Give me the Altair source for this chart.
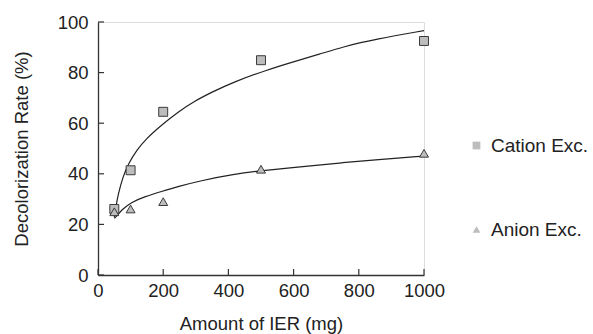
import altair as alt
import pandas as pd

# Measured data points
amount = [50, 100, 200, 500, 1000]
cation = [26.1, 41.4, 64.5, 84.9, 92.5]
anion = [25.0, 26.1, 29.0, 41.8, 48.1]

# Fitted curves
cat_fit_x = [50, 55, 62, 77, 93, 120, 144, 195, 246, 297, 350, 414, 517, 600, 680, 751, 854, 1000]
cat_fit_y = [22.8, 27, 32, 39, 44, 49.5, 53.4, 59.3, 64.5, 68.8, 72.3, 76.2, 81.0, 84.3, 87.3, 90.2, 93.3, 96.6]
an_fit_x = [50, 60, 72, 103, 144, 195, 246, 312, 414, 517, 649, 751, 854, 1000]
an_fit_y = [22.4, 23.6, 25.7, 28.8, 31, 33.0, 35.0, 37.2, 39.8, 41.5, 43.1, 44.4, 45.6, 47]

series_names = ["Cation Exc.", "Anion Exc."]
x_ticks = [0, 200, 400, 600, 800, 1000]
y_ticks = [0, 20, 40, 60, 80, 100]

W, H = 326, 253
FONT = "Liberation Sans"
FS = 18.5

pts = pd.DataFrame(
    {"amount": amount + amount,
     "rate": cation + anion,
     "series": [series_names[0]] * len(amount) + [series_names[1]] * len(amount)}
)
fits = pd.DataFrame(
    {"amount": cat_fit_x + an_fit_x,
     "rate": cat_fit_y + an_fit_y,
     "series": [series_names[0]] * len(cat_fit_x) + [series_names[1]] * len(an_fit_x)}
)

xscale = alt.Scale(domain=[0, 1000], nice=False)
yscale = alt.Scale(domain=[0, 100], nice=False)

xaxis = alt.Axis(values=x_ticks, format="d", title="Amount of IER (mg)", ticks=False, grid=False,
                 labelFlush=False, labelOverlap=False,
                 labelFontSize=FS, titleFontSize=FS, titleFontWeight="normal",
                 labelPadding=6, titlePadding=15, domainColor="#333", domainWidth=1.3,
                 labelColor="#222", titleColor="#222", labelFont=FONT, titleFont=FONT)
yaxis = alt.Axis(values=y_ticks, title="Decolorization Rate (%)", ticks=False, grid=False,
                 labelFlush=False, labelOverlap=False,
                 labelFontSize=FS, titleFontSize=FS, titleFontWeight="normal",
                 labelPadding=10, titlePadding=26, domainColor="#333", domainWidth=1.3,
                 labelColor="#222", titleColor="#222", labelFont=FONT, titleFont=FONT)

lines = alt.Chart(fits).mark_line(color="#222", strokeWidth=1.2, interpolate="basis").encode(
    x=alt.X("amount:Q", scale=xscale, axis=xaxis),
    y=alt.Y("rate:Q", scale=yscale, axis=yaxis),
    detail="series:N",
)

points = alt.Chart(pts).mark_point(filled=True, fill="#bdbdbd", stroke="#3a3a3a",
                                   strokeWidth=1, size=80, opacity=1).encode(
    x=alt.X("amount:Q", scale=xscale),
    y=alt.Y("rate:Q", scale=yscale),
    shape=alt.Shape("series:N",
                    scale=alt.Scale(domain=series_names, range=["square", "triangle-up"]),
                    legend=alt.Legend(title=None, orient="none", legendX=369, legendY=114,
                                      labelFontSize=19, labelFont=FONT, labelColor="#222",
                                      symbolSize=60, symbolFillColor="#bdbdbd",
                                      symbolStrokeColor="#3a3a3a", symbolStrokeWidth=1,
                                      rowPadding=64, labelOffset=5, padding=0)),
)

xt = pd.DataFrame({"v": x_ticks})
yt = pd.DataFrame({"v": y_ticks})
xtick_marks = alt.Chart(xt).mark_rule(color="#333", strokeWidth=1.2).encode(
    x=alt.X("v:Q", scale=xscale), y=alt.value(H), y2=alt.value(H - 6))
ytick_marks = alt.Chart(yt).mark_rule(color="#333", strokeWidth=1.2).encode(
    y=alt.Y("v:Q", scale=yscale), x=alt.value(0), x2=alt.value(6))

chart = alt.layer(lines, xtick_marks, ytick_marks, points).properties(
    width=W, height=H,
    autosize=alt.AutoSizeParams(type="none"),
    padding={"left": 98, "top": 22, "right": 169, "bottom": 59},
).configure_view(stroke=None).configure(background="white")

chart.save("out.html", embed_options={"renderer": "svg", "actions": False})
